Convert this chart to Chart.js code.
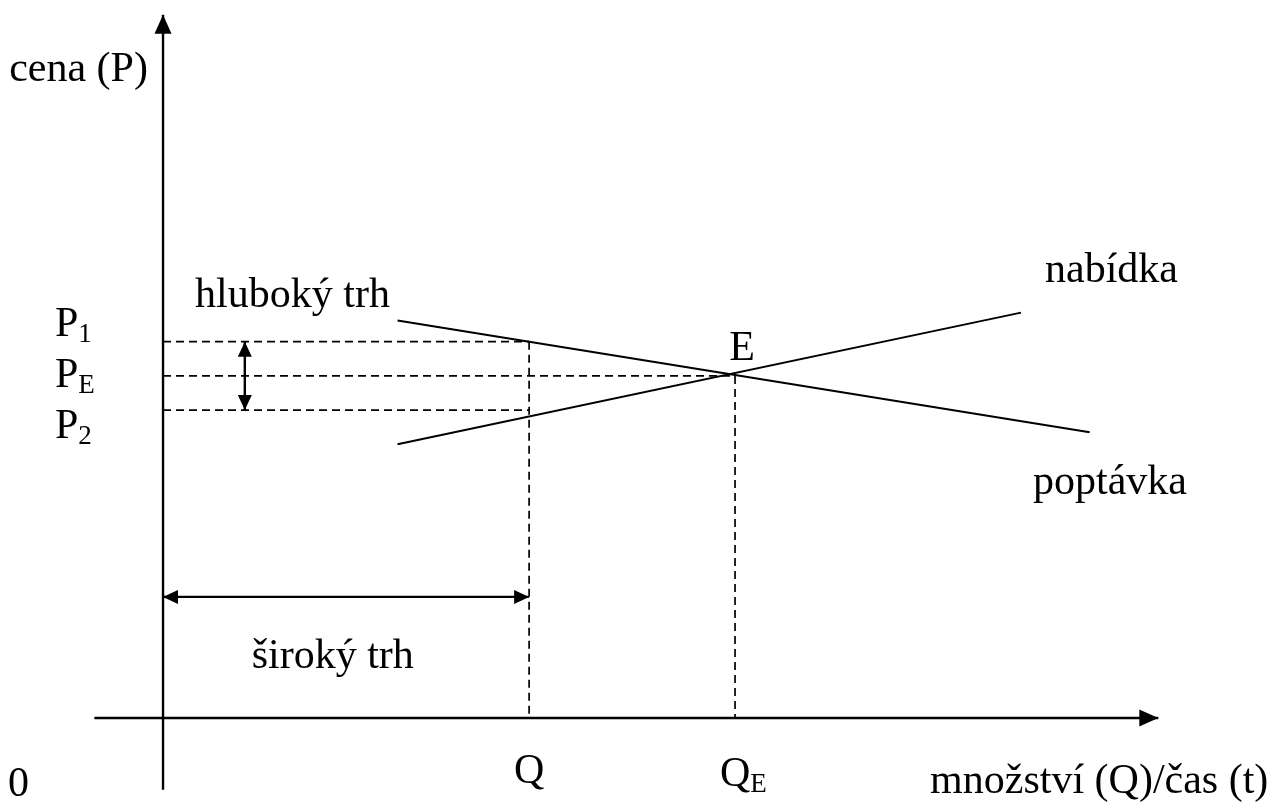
<!DOCTYPE html>
<html>
<head>
<meta charset="utf-8">
<script src="https://cdn.jsdelivr.net/npm/chart.js@4.4.1/dist/chart.umd.min.js"></script>
<style>
    html, body { margin: 0; padding: 0; background: #fff; }
    canvas { display: block; }
</style>
</head>
<body>
<canvas id="chart" width="1271" height="811"></canvas>
<script>
// Quantity (x) and price (y) in arbitrary units, equilibrium E at (100, 100)
const demandQ = [41, 162];
const demandP = [116.2, 83.5];
const supplyQ = [41, 150];
const supplyP = [80, 118.5];

const qValues = [64, 100];          // Q, Q_E
const qLabels = [['Q', ''], ['Q', 'E']];
const pValues = [110, 100, 90];     // P1, P_E, P2
const pLabels = [['P', '1'], ['P', 'E'], ['P', '2']];

const xAxisRange = [-12, 174];
const yAxisRange = [-21, 205.6];

// depth ("hluboký trh") and breadth ("široký trh") arrows
const depthArrowQ = 14.3;
const breadthArrowP = 35.4;

// text labels: [text, q, p]
const textLabels = [
    ['cena (P)', -26.9, 189.3],
    ['hluboký trh', 5.6, 123.4],
    ['nabídka', 154.2, 130.6],
    ['E', 99.0, 107.9],
    ['poptávka', 152.1, 68.6],
    ['široký trh', 15.5, 17.8],
    ['0', -27.1, -19.6],
    ['množství (Q)/čas (t)', 134.1, -18.7]
];
const pLabelQ = -18.9;
const qLabelP = [-15.8, -16.7];

const FONT = "'Times New Roman', 'Liberation Serif', serif";

const seg = (x1, y1, x2, y2) => [{ x: x1, y: y1 }, { x: x2, y: y2 }];

const solid = (data, width) => ({
    data, showLine: true, borderColor: '#000', borderWidth: width,
    pointRadius: 0, fill: false
});
const dashed = (data) => ({
    data, showLine: true, borderColor: '#000', borderWidth: 1.7,
    borderDash: [8, 5], pointRadius: 0, fill: false
});

const datasets = [
    solid(seg(xAxisRange[0], 0, xAxisRange[1], 0), 2.4),
    solid(seg(0, yAxisRange[0], 0, yAxisRange[1]), 2.4),
    solid(seg(demandQ[0], demandP[0], demandQ[1], demandP[1]), 2),
    solid(seg(supplyQ[0], supplyP[0], supplyQ[1], supplyP[1]), 2),
    // horizontal guides
    dashed(seg(0, pValues[0], qValues[0], pValues[0])),
    dashed(seg(0, pValues[1], qValues[1], pValues[1])),
    dashed(seg(0, pValues[2], qValues[0], pValues[2])),
    // vertical guides
    dashed(seg(qValues[0], pValues[0], qValues[0], 0)),
    dashed(seg(qValues[1], pValues[1], qValues[1], 0)),
    // double arrows
    solid(seg(depthArrowQ, pValues[0], depthArrowQ, pValues[2]), 2.4),
    solid(seg(0, breadthArrowP, qValues[0], breadthArrowP), 2.4)
];

function arrowHead(ctx, x1, y1, x2, y2, len, half) {
    const a = Math.atan2(y2 - y1, x2 - x1);
    ctx.save();
    ctx.translate(x2, y2);
    ctx.rotate(a);
    ctx.beginPath();
    ctx.moveTo(0, 0);
    ctx.lineTo(-len, -half);
    ctx.lineTo(-len, half);
    ctx.closePath();
    ctx.fill();
    ctx.restore();
}

const decorPlugin = {
    id: 'decor',
    afterDatasetsDraw(chart) {
        const { ctx, scales: { x, y } } = chart;
        const px = v => x.getPixelForValue(v);
        const py = v => y.getPixelForValue(v);
        ctx.save();
        ctx.fillStyle = '#000';

        // axis arrows
        arrowHead(ctx, px(0), py(0), px(0), py(yAxisRange[1]), 19, 8.5);
        arrowHead(ctx, px(0), py(0), px(xAxisRange[1]), py(0), 19, 8.5);

        // depth arrow (both ends)
        arrowHead(ctx, px(depthArrowQ), py(pValues[2]), px(depthArrowQ), py(pValues[0]), 15, 7);
        arrowHead(ctx, px(depthArrowQ), py(pValues[0]), px(depthArrowQ), py(pValues[2]), 15, 7);
        // breadth arrow (both ends)
        arrowHead(ctx, px(qValues[0]), py(breadthArrowP), px(0), py(breadthArrowP), 15, 7);
        arrowHead(ctx, px(0), py(breadthArrowP), px(qValues[0]), py(breadthArrowP), 15, 7);

        ctx.textBaseline = 'middle';
        ctx.textAlign = 'left';
        ctx.font = '42px ' + FONT;
        textLabels.forEach(([t, q, p]) => ctx.fillText(t, px(q), py(p)));

        // labels with subscripts
        const drawSub = (main, sub, left, mid) => {
            ctx.font = '42px ' + FONT;
            ctx.fillText(main, left, mid);
            const w = ctx.measureText(main).width;
            ctx.font = '27px ' + FONT;
            ctx.fillText(sub, left + w, mid + 10);
        };
        pLabels.forEach(([m, s], i) => drawSub(m, s, px(pLabelQ), py(pValues[i]) + (i === 0 ? -17 : i === 2 ? 17 : 0)));
        qLabels.forEach(([m, s], i) => drawSub(m, s, px(qValues[i]) - 15, py(qLabelP[i])));

        ctx.restore();
    }
};

new Chart(document.getElementById('chart'), {
    type: 'scatter',
    data: { datasets },
    options: {
        responsive: false,
        animation: false,
        events: [],
        layout: { padding: 0 },
        plugins: { legend: { display: false }, tooltip: { enabled: false } },
        scales: {
            x: { type: 'linear', min: -28.5, max: 193.7, display: false },
            y: { type: 'linear', min: -27.2, max: 209.9, display: false }
        }
    },
    plugins: [decorPlugin]
});
</script>
</body>
</html>
